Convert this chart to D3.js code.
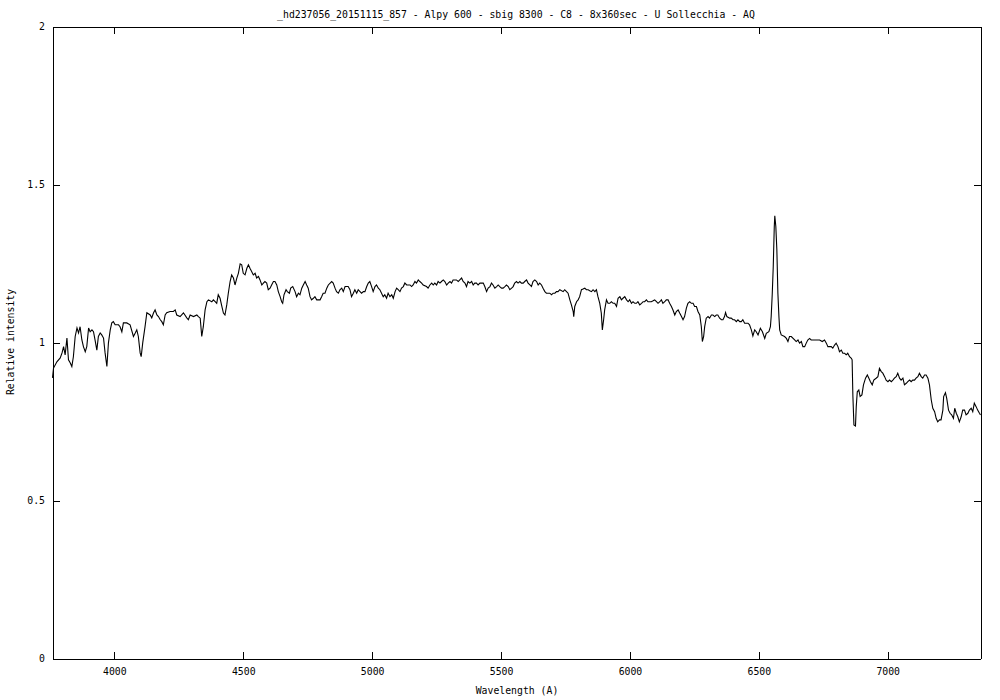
<!DOCTYPE html>
<html>
<head>
<meta charset="utf-8">
<script src="https://cdn.jsdelivr.net/npm/d3@7"></script>
<style>
  html, body { margin: 0; padding: 0; background: #fff; }
  svg { display: block; }
  text { font-family: "DejaVu Sans Mono", "Liberation Mono", monospace; fill: #000; }
</style>
</head>
<body>
<svg id="chart" width="1000" height="700"></svg>
<script>
const titleText = "_hd237056_20151115_857 - Alpy 600 - sbig 8300 - C8 - 8x360sec - U Sollecchia - AQ";
const xLabel = "Wavelength (A)";
const yLabel = "Relative intensity";
const xDomain = [3760, 7360];
const yDomain = [0, 2];
const xTicks = [4000, 4500, 5000, 5500, 6000, 6500, 7000];
const yTicks = [0, 0.5, 1, 1.5, 2];
const yTickLabels = ["0", "0.5", "1", "1.5", "2"];

const wavelength = [
3760,3764,3777,3790,3797,3803,3809,3816,3822,3829,3835,3841,3848,3855,3861,3867,3874,3880,3887,3893,
3900,3906,3913,3919,3925,3932,3938,3945,3951,3958,3964,3971,3977,3984,3990,3996,4003,4016,4022,4029,
4035,4048,4061,4074,4081,4087,4093,4100,4104,4110,4119,4126,4139,4145,4152,4158,4165,4171,4178,4184,
4190,4197,4203,4216,4229,4236,4242,4255,4268,4281,4287,4294,4307,4320,4326,
4333,4339,4345,4352,4359,4365,4378,4384,4391,4397,4403,4410,4417,4423,4429,4436,4442,4449,4455,4462,
4468,4475,4481,4488,4494,4500,4507,4514,4520,4526,4533,4539,4546,4552,4559,4565,4572,4578,4584,4591,
4597,4604,4610,4617,4623,4630,4636,4643,4649,4653,4658,4666,4671,4679,4684,4692,4701,4707,4714,4720,
4727,4733,4740,4746,4752,4759,4765,4772,4778,4785,4798,4804,4810,4817,4824,4830,4843,4849,4856,4862,
4869,4875,4882,4888,4895,4907,4914,4920,4927,4933,4940,4946,4953,4959,4966,4972,4979,4985,4991,4998,
5004,5011,5017,5024,
5030,5043,5049,5056,5062,5069,5076,5082,5089,5095,5101,5108,5114,5121,5127,5134,5147,5153,5159,5166,
5172,5179,5185,5192,5198,5211,5217,5224,5231,5237,5243,5250,5256,5263,5269,5276,5282,5289,5295,5302,
5308,5314,5327,5334,5340,5347,5353,5360,5366,5372,5379,5386,5392,5398,5405,5411,5418,5431,5437,5444,
5450,5457,5463,5469,5476,5483,5489,5495,5502,5508,5515,5521,5528,5534,5541,5547,5553,5560,5566,5573,
5579,5586,5592,5599,5605,5612,5618,5624,5631,5638,5644,5650,5657,5663,5670,5676,5683,5689,5696,5702,
5709,5715,5721,
5728,5741,5747,5754,5760,5767,5773,5780,5782,5786,5793,5799,5805,5812,5818,5825,5831,5838,5844,5851,
5857,5864,5870,5876,5883,5889,5893,5898,5902,5909,5915,5922,5928,5935,5941,5948,5954,5961,5967,5973,
5980,5987,5993,5999,6006,6012,6019,6025,6031,6038,6045,6051,6057,6064,6070,6077,6083,6090,6096,6103,
6109,6116,6122,6128,6135,6141,6148,6154,6161,6167,6174,6180,6187,6193,6200,6206,6212,6219,6225,6232,
6238,6245,6251,6258,6264,6271,6277,6281,6286,6290,6296,6303,6309,6316,6322,6329,6335,6341,6348,6355,
6361,6367,6371,6376,6387,6393,6400,6406,6413,6419,6426,6432,6438,6445,6452,6458,6464,
6471,6477,6484,6490,6497,6506,6514,6523,6529,6539,6545,6548,6552,6556,6560,6562,6566,6570,6574,6578,
6581,6587,6600,6607,6613,6619,6626,6639,6645,6652,6658,6665,6671,6678,6684,6690,6697,6703,6716,6729,
6736,6746,6755,6762,6768,6781,6787,
6794,6800,6807,6813,6820,6826,6833,6839,6845,6852,6859,6862,6865,6869,6875,6878,6882,6888,6893,6900,
6906,6914,6921,6927,6933,6940,6946,6955,6962,6968,6975,6981,6988,6994,7001,7007,7014,7020,7026,7033,
7039,7046,7052,7059,7065,7072,7078,7085,7091,7097,7104,7110,7117,7123,7130,7136,7143,7149,7156,7162,
7169,7175,7182,7188,7194,7201,7207,7214,7217,7224,7229,7236,7242,7248,7255,7260,7266,7272,7278,7285,
7291,7298,7304,7311,7317,7324,7330,7336,7343,7349,7356,7360
];

const intensity = [
0.888,0.919,0.939,0.951,0.967,0.987,0.961,1.014,0.945,0.935,0.924,0.955,1.019,1.046,1.030,1.050,1.008,0.987,0.971,0.987,
1.046,1.034,1.040,1.034,1.008,0.976,1.019,1.030,1.024,1.014,0.967,0.924,0.999,1.040,1.062,1.066,1.056,1.056,1.050,1.034,
1.062,1.062,1.056,1.019,1.030,1.040,1.019,0.967,0.955,0.999,1.050,1.094,1.087,1.078,1.094,1.103,1.087,1.082,1.072,1.066,
1.056,1.087,1.094,1.098,1.098,1.103,1.087,1.082,1.094,1.078,1.072,1.087,1.082,1.087,1.082,
1.077,1.019,1.050,1.103,1.129,1.135,1.129,1.135,1.129,1.124,1.151,1.140,1.114,1.093,1.087,1.119,1.156,1.193,1.214,1.204,
1.182,1.204,1.219,1.249,1.246,1.219,1.214,1.235,1.246,1.235,1.224,1.214,1.219,1.204,1.209,1.198,1.182,1.188,1.193,1.188,
1.167,1.172,1.182,1.193,1.193,1.182,1.161,1.145,1.129,1.124,1.151,1.167,1.161,1.156,1.172,1.177,1.161,1.145,1.156,1.151,
1.172,1.182,1.193,1.182,1.172,1.145,1.135,1.140,1.145,1.135,1.135,1.145,1.156,1.156,1.172,1.182,1.193,1.188,1.172,1.161,
1.156,1.167,1.172,1.161,1.177,1.177,1.167,1.145,1.156,1.167,1.156,1.167,1.161,1.156,1.161,1.161,1.177,1.188,1.193,1.177,
1.161,1.177,1.182,1.172,
1.167,1.145,1.151,1.140,1.156,1.145,1.151,1.140,1.161,1.172,1.167,1.161,1.172,1.177,1.188,1.182,1.182,1.177,1.182,1.193,
1.188,1.198,1.193,1.188,1.182,1.177,1.172,1.182,1.188,1.182,1.188,1.182,1.193,1.188,1.193,1.198,1.193,1.182,1.188,1.193,
1.188,1.198,1.198,1.193,1.198,1.204,1.193,1.188,1.177,1.193,1.188,1.193,1.182,1.188,1.188,1.182,1.188,1.188,1.177,1.161,
1.172,1.177,1.188,1.182,1.172,1.177,1.182,1.177,1.172,1.172,1.177,1.182,1.177,1.167,1.172,1.177,1.188,1.193,1.188,1.193,
1.188,1.188,1.193,1.198,1.188,1.182,1.177,1.193,1.198,1.193,1.182,1.188,1.182,1.172,1.161,1.156,1.156,1.156,1.151,1.156,
1.156,1.161,1.161,
1.167,1.161,1.167,1.161,1.156,1.135,1.119,1.098,1.082,1.114,1.129,1.135,1.145,1.167,1.169,1.172,1.167,1.167,1.164,1.161,
1.167,1.161,1.167,1.145,1.124,1.093,1.040,1.072,1.103,1.135,1.124,1.124,1.129,1.124,1.124,1.114,1.140,1.145,1.135,1.140,
1.145,1.135,1.129,1.135,1.124,1.129,1.124,1.124,1.129,1.119,1.124,1.129,1.129,1.135,1.129,1.129,1.129,1.132,1.135,1.129,
1.124,1.129,1.135,1.124,1.129,1.135,1.135,1.124,1.114,1.103,1.087,1.098,1.103,1.093,1.082,1.072,1.082,1.109,1.124,1.129,
1.124,1.124,1.114,1.114,1.098,1.087,1.050,1.003,1.019,1.050,1.077,1.082,1.077,1.087,1.087,1.082,1.087,1.087,1.077,1.072,
1.072,1.082,1.095,1.082,1.077,1.077,1.072,1.072,1.066,1.072,1.066,1.066,1.072,1.061,1.061,1.061,1.056,
1.040,1.021,1.040,1.034,1.024,1.045,1.034,1.013,1.029,1.034,1.050,1.082,1.151,1.240,1.367,1.401,1.367,1.293,1.156,1.082,
1.040,1.024,1.019,1.013,1.003,1.019,1.019,1.008,1.003,1.008,0.998,1.003,0.987,0.987,0.998,1.008,1.013,1.008,1.008,1.008,
1.008,1.003,1.008,0.998,0.987,0.987,0.982,
0.992,0.998,0.987,0.971,0.976,0.966,0.966,0.961,0.966,0.955,0.950,0.945,0.829,0.739,0.736,0.797,0.844,0.850,0.829,0.834,
0.866,0.887,0.897,0.887,0.876,0.866,0.881,0.887,0.892,0.918,0.908,0.903,0.892,0.881,0.876,0.881,0.876,0.881,0.887,0.892,
0.903,0.887,0.881,0.887,0.866,0.871,0.876,0.881,0.876,0.881,0.881,0.887,0.892,0.903,0.892,0.887,0.897,0.897,0.887,0.866,
0.818,0.792,0.781,0.760,0.749,0.755,0.755,0.786,0.829,0.841,0.823,0.786,0.776,0.771,0.760,0.792,0.776,0.765,0.749,0.765,
0.786,0.786,0.771,0.776,0.786,0.792,0.781,0.808,0.797,0.786,0.776,0.771
];

(function () {
  const n = Math.min(wavelength.length, intensity.length);
  const data = wavelength.slice(0, n).map((w, i) => ({ w: w, v: intensity[i] }));

  const svg = d3.select("#chart");
  const pLeft = 52.5, pRight = 980.5, pTop = 26.5, pBottom = 658.5;
  const fontFamily = '"DejaVu Sans Mono", "Liberation Mono", monospace';
  const fontSize = "9.8px";

  const x = d3.scaleLinear().domain(xDomain).range([pLeft, pRight]);
  const y = d3.scaleLinear().domain(yDomain).range([pBottom, pTop]);

  function styleAxis(g) {
    g.attr("font-family", fontFamily).attr("font-size", fontSize);
    g.selectAll("path, line").attr("stroke", "#000").attr("shape-rendering", "crispEdges");
    g.selectAll("text").attr("fill", "#000");
  }

  svg.append("g").attr("transform", `translate(0,${pBottom})`)
    .call(d3.axisBottom(x).tickValues(xTicks).tickFormat(d3.format("d")).tickSizeInner(-7).tickSizeOuter(0).tickPadding(10))
    .call(styleAxis);
  svg.append("g").attr("transform", `translate(0,${pTop})`)
    .call(d3.axisTop(x).tickValues(xTicks).tickFormat("").tickSizeInner(-7).tickSizeOuter(0))
    .call(styleAxis);
  svg.append("g").attr("transform", `translate(${pLeft},0)`)
    .call(d3.axisLeft(y).tickValues(yTicks).tickFormat((d, i) => yTickLabels[i]).tickSizeInner(-7).tickSizeOuter(0).tickPadding(7.5))
    .call(styleAxis);
  svg.append("g").attr("transform", `translate(${pRight},0)`)
    .call(d3.axisRight(y).tickValues(yTicks).tickFormat("").tickSizeInner(-7).tickSizeOuter(0))
    .call(styleAxis);

  const line = d3.line().x(d => x(d.w)).y(d => y(d.v));
  svg.append("path").datum(data)
    .attr("d", line)
    .attr("fill", "none")
    .attr("stroke", "#000")
    .attr("stroke-width", 1.1)
    .attr("stroke-linejoin", "miter");

  svg.append("text").attr("x", 516).attr("y", 18).attr("text-anchor", "middle")
    .style("font-size", fontSize).text(titleText);
  svg.append("text").attr("x", 517).attr("y", 694).attr("text-anchor", "middle")
    .style("font-size", fontSize).text(xLabel);
  svg.append("text").attr("transform", "translate(14,342) rotate(-90)").attr("text-anchor", "middle")
    .style("font-size", fontSize).text(yLabel);
})();
</script>
</body>
</html>
